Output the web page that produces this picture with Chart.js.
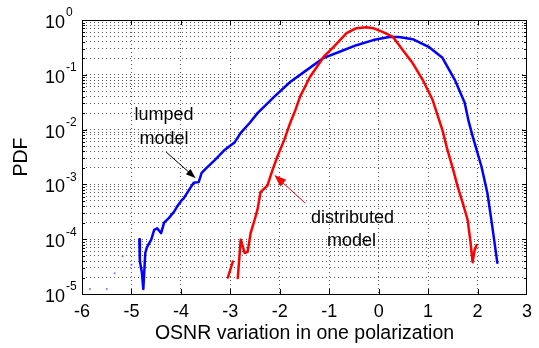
<!DOCTYPE html>
<html>
<head>
<meta charset="utf-8">
<script src="https://cdn.jsdelivr.net/npm/chart.js@4"></script>
<style>
  html, body { margin: 0; padding: 0; background: #fff; }
  #wrap { width: 539px; height: 348px; }
</style>
</head>
<body>
<div id="wrap"><canvas id="chart" width="539" height="348"></canvas></div>
<script>
// axis setup
const xMin = -6, xMax = 3;
const yDecades = [-5, -4, -3, -2, -1, 0];
const yMinorSteps = [2, 3, 4, 5, 6, 7, 8, 9];

// lumped model (blue)
const lumpedX = [-4.84, -4.83, -4.79, -4.76, -4.72, -4.69, -4.60, -4.54, -4.48, -4.40, -4.34, -4.24, -4.14, -4.08, -3.98,
  -3.94, -3.80, -3.74, -3.64, -3.58, -3.48, -3.31, -3.11, -2.91, -2.79, -2.61, -2.45, -2.11, -1.79, -1.45,
  -1.11, -0.79, -0.45, -0.11, 0.21, 0.41, 0.69, 1.01, 1.29, 1.54, 1.74, 1.82, 1.90, 2.08, 2.20, 2.30, 2.40];
const lumpedY = [1.0e-4, 4.0e-5, 2.5e-5, 1.23e-5, 5.6e-5, 7.0e-5, 9.8e-5, 1.48e-4, 1.58e-4, 1.29e-4, 2.0e-4, 2.45e-4, 3.16e-4, 3.9e-4, 5.2e-4,
  5.6e-4, 8.9e-4, 1.07e-3, 1.10e-3, 1.62e-3, 2.0e-3, 2.8e-3, 4.3e-3, 5.9e-3, 8.7e-3, 1.32e-2, 2.0e-2, 4.0e-2, 7.4e-2, 0.123,
  0.204, 0.263, 0.347, 0.43, 0.49, 0.49, 0.447, 0.324, 0.204, 0.081, 0.031, 0.0141, 0.0076, 2.1e-3, 6.9e-4, 1.66e-4, 3.7e-5];

// isolated samples left of the lumped curve
const strayX = [-5.84, -5.50, -5.34, -5.18, -5.00];
const strayY = [1.23e-5, 1.23e-5, 2.4e-5, 4.9e-5, 3.4e-5];

// distributed model (red), null = empty bin
const distX = [-3.05, -2.95, -2.90, -2.85, -2.79, -2.71, -2.65, -2.59, -2.51, -2.45, -2.39, -2.25, -2.15, -2.05, -1.91,
  -1.79, -1.69, -1.59, -1.39, -1.11, -0.91, -0.65, -0.45, -0.25, -0.11, 0.09, 0.29, 0.49, 0.69, 0.89,
  1.09, 1.21, 1.29, 1.39, 1.51, 1.60, 1.70, 1.80, 1.86, 1.90, 1.94, 1.98];
const distY = [2.0e-5, 3.9e-5, null, 1.95e-5, 9.8e-5, 5.6e-5, 5.9e-5, 1.29e-4, 2.24e-4, 3.5e-4, 7.2e-4, 9.5e-4, 1.8e-3, 3.2e-3, 6.5e-3,
  1.32e-2, 2.2e-2, 0.040, 0.091, 0.214, 0.324, 0.575, 0.71, 0.74, 0.71, 0.60, 0.49, 0.28, 0.162, 0.081,
  0.035, 0.0162, 9.8e-3, 4.3e-3, 1.8e-3, 8.9e-4, 4.6e-4, 2.24e-4, 8.5e-5, 3.8e-5, 6.3e-5, 7.8e-5];

// annotations (data coordinates)
const lumpedLabel = ['lumped', 'model'];
const lumpedLabelAt = [[-4.34, 0.0186], [-4.34, 0.0067]];
const lumpedArrow = [[-4.30, 3.9e-3], [-3.70, 1.3e-3]];
const distLabel = ['distributed', 'model'];
const distLabelAt = [[-0.53, 2.45e-4], [-0.55, 9.3e-5]];
const distArrow = [[-1.49, 4.6e-4], [-2.11, 1.48e-3]];

const FONT = "'Liberation Sans', Arial, Helvetica, sans-serif";

const zip = (xs, ys) => xs.map((x, i) => ({ x: x, y: ys[i] }));

const yTickValues = [];
yDecades.forEach(e => {
  yTickValues.push(Math.pow(10, e));
  if (e < 0) yMinorSteps.forEach(m => yTickValues.push(m * Math.pow(10, e)));
});
yTickValues.sort((a, b) => a - b);

function isDecade(v) {
  const l = Math.log10(v);
  return Math.abs(l - Math.round(l)) < 1e-9;
}

function arrow(ctx, x1, y1, x2, y2, color, headLen, headW) {
  const ang = Math.atan2(y2 - y1, x2 - x1);
  ctx.save();
  ctx.strokeStyle = color;
  ctx.fillStyle = color;
  ctx.lineWidth = 1;
  ctx.beginPath();
  ctx.moveTo(x1, y1);
  ctx.lineTo(x2 - Math.cos(ang) * headLen * 0.8, y2 - Math.sin(ang) * headLen * 0.8);
  ctx.stroke();
  ctx.translate(x2, y2);
  ctx.rotate(ang);
  ctx.beginPath();
  ctx.moveTo(0, 0);
  ctx.lineTo(-headLen, -headW);
  ctx.lineTo(-headLen, headW);
  ctx.closePath();
  ctx.fill();
  ctx.restore();
}

const matlabFrame = {
  id: 'matlabFrame',
  afterDraw(chart) {
    const ctx = chart.ctx;
    const xs = chart.scales.x, ys = chart.scales.y;
    const a = chart.chartArea;
    ctx.save();

    // inside tick marks
    ctx.strokeStyle = '#000';
    ctx.lineWidth = 1;
    ctx.beginPath();
    for (let v = xMin + 1; v < xMax; v++) {
      const px = Math.round(xs.getPixelForValue(v)) + 0.5;
      ctx.moveTo(px, a.bottom); ctx.lineTo(px, a.bottom - 5);
      ctx.moveTo(px, a.top); ctx.lineTo(px, a.top + 5);
    }
    yTickValues.forEach(v => {
      const py = Math.round(ys.getPixelForValue(v)) + 0.5;
      const len = isDecade(v) ? 5 : 3;
      ctx.moveTo(a.left, py); ctx.lineTo(a.left + len, py);
      ctx.moveTo(a.right, py); ctx.lineTo(a.right - len, py);
    });
    ctx.stroke();

    // box
    ctx.strokeRect(Math.round(a.left) + 0.5, Math.round(a.top) + 0.5,
      Math.round(a.right - a.left) - 1, Math.round(a.bottom - a.top));

    // y tick labels 10^n
    ctx.fillStyle = '#000';
    yDecades.forEach(e => {
      const py = ys.getPixelForValue(Math.pow(10, e));
      ctx.font = '18px ' + FONT;
      ctx.textAlign = 'right';
      ctx.textBaseline = 'middle';
      ctx.fillText('10', 65, py + 3);
      ctx.font = '12px ' + FONT;
      ctx.textAlign = 'left';
      ctx.fillText(String(e), 66, py - 7);
    });

    // annotations
    ctx.font = '18px ' + FONT;
    ctx.textAlign = 'center';
    ctx.textBaseline = 'middle';
    lumpedLabel.forEach((t, i) => {
      ctx.fillText(t, xs.getPixelForValue(lumpedLabelAt[i][0]), ys.getPixelForValue(lumpedLabelAt[i][1]));
    });
    distLabel.forEach((t, i) => {
      ctx.fillText(t, xs.getPixelForValue(distLabelAt[i][0]), ys.getPixelForValue(distLabelAt[i][1]));
    });
    arrow(ctx,
      xs.getPixelForValue(lumpedArrow[0][0]), ys.getPixelForValue(lumpedArrow[0][1]),
      xs.getPixelForValue(lumpedArrow[1][0]), ys.getPixelForValue(lumpedArrow[1][1]),
      '#000', 10, 3.5);
    arrow(ctx,
      xs.getPixelForValue(distArrow[0][0]), ys.getPixelForValue(distArrow[0][1]),
      xs.getPixelForValue(distArrow[1][0]), ys.getPixelForValue(distArrow[1][1]),
      '#ff0000', 12, 4.5);
    ctx.restore();
  }
};

new Chart(document.getElementById('chart'), {
  type: 'line',
  data: {
    datasets: [
      {
        label: 'distributed model',
        data: zip(distX, distY),
        borderColor: '#ff0000',
        borderWidth: 2.5,
        pointRadius: 0,
        tension: 0,
        spanGaps: false,
        borderJoinStyle: 'round',
        borderCapStyle: 'round',
        order: 1
      },
      {
        label: 'lumped model',
        data: zip(lumpedX, lumpedY),
        borderColor: '#0000ff',
        borderWidth: 2.5,
        pointRadius: 0,
        tension: 0,
        borderJoinStyle: 'round',
        borderCapStyle: 'round',
        order: 2
      },
      {
        label: 'stray',
        data: zip(strayX, strayY),
        showLine: false,
        pointRadius: 1,
        pointBorderWidth: 0,
        pointBackgroundColor: 'rgba(60,60,255,0.7)',
        order: 3
      }
    ]
  },
  options: {
    responsive: false,
    animation: false,
    devicePixelRatio: 1,
    layout: { padding: { top: 20, right: 6, left: 0, bottom: 0 } },
    plugins: { legend: { display: false }, tooltip: { enabled: false } },
    scales: {
      x: {
        type: 'linear',
        min: xMin,
        max: xMax,
        afterFit: s => { s.height = 54; },
        ticks: {
          stepSize: 1,
          color: '#000',
          font: { family: FONT, size: 18 },
          padding: 7,
          maxRotation: 0
        },
        grid: { color: '#5a5a5a', lineWidth: 1, drawTicks: false },
        border: { display: false, dash: [1, 3] },
        title: {
          display: true,
          text: 'OSNR variation in one polarization',
          color: '#000',
          font: { family: FONT, size: 19.5 },
          padding: { top: 0, bottom: 3 }
        }
      },
      y: {
        type: 'logarithmic',
        min: 1e-5,
        max: 1,
        afterFit: s => { s.width = 82; },
        afterBuildTicks: s => { s.ticks = yTickValues.map(v => ({ value: v })); },
        ticks: { display: false, autoSkip: false },
        grid: { color: '#5a5a5a', lineWidth: 1, drawTicks: false },
        border: { display: false, dash: [1, 3] },
        title: {
          display: true,
          text: 'PDF',
          color: '#000',
          font: { family: FONT, size: 19.5 },
          padding: { top: 10, bottom: 0 }
        }
      }
    }
  },
  plugins: [matlabFrame]
});
</script>
</body>
</html>
